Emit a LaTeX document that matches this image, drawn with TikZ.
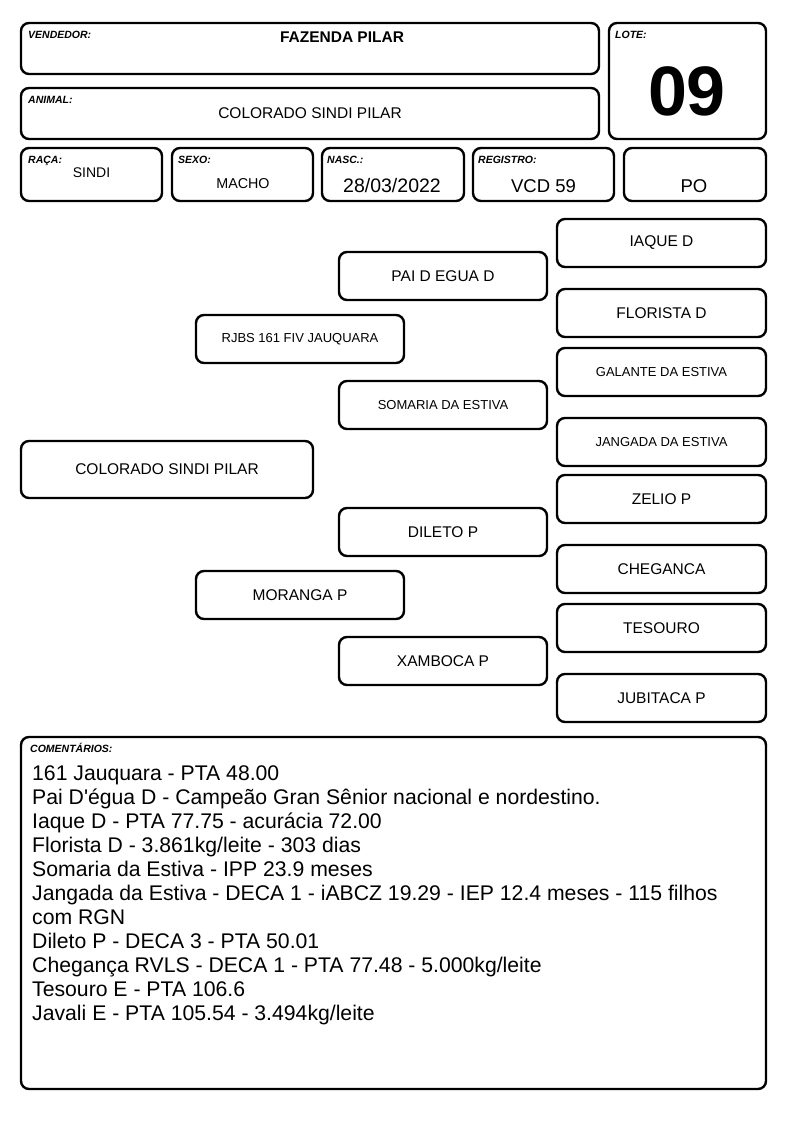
\documentclass[tikz,border=0pt]{standalone}
\usepackage{fontspec}
\setmainfont{Liberation Sans}[Ligatures=TeXOff]
\newcommand\fs[1]{\fontsize{#1}{#1}\selectfont}
\begin{document}
\begin{tikzpicture}[x=1pt,y=-1pt,
  box/.style={draw=black, line width=2.4pt, rounded corners=8pt, inner sep=0pt},
  lbl/.style={anchor=base west, inner sep=0pt, font=\fs{10.5}\bfseries\itshape},
  val/.style={inner sep=0pt, font=\fs{15.5}},
  big/.style={font=\fs{15.5}},
  sm/.style={font=\fs{13}},
  ctext/.style={anchor=base west, inner sep=0pt, font=\fs{21.2}}]
\useasboundingbox (0,0) rectangle (794,1123);
% header boxes
\node[box, minimum width=578pt, minimum height=51pt] (vend) at (310,48.5) {};
\node[box, minimum width=578pt, minimum height=51pt] (anim) at (310,113.5) {};
\node[box, minimum width=157pt, minimum height=116pt] (lote) at (687.5,81) {};
\node[box, minimum width=141pt, minimum height=53pt] (raca) at (91.5,174.5) {};
\node[box, minimum width=141pt, minimum height=53pt] (sexo) at (242.5,174.5) {};
\node[box, minimum width=142pt, minimum height=53pt] (nasc) at (393,174.5) {};
\node[box, minimum width=141pt, minimum height=53pt] (reg) at (543.5,174.5) {};
\node[box, minimum width=142pt, minimum height=53pt] (po) at (695,174.5) {};
% labels
\node[lbl] (lvend) at (28,38.5) {VENDEDOR:};
\node[lbl] (lanim) at (28,103.5) {ANIMAL:};
\node[lbl] (llote) at (615,38.5) {LOTE:};
\node[lbl] (lraca) at (28,163.5) {RAÇA:};
\node[lbl] (lsexo) at (178,163.5) {SEXO:};
\node[lbl] (lnasc) at (327,163.5) {NASC.:};
\node[lbl] (lreg) at (478,163.5) {REGISTRO:};
% values
\node[val, font=\fs{15.5}\bfseries] (tvend) at (342,37.5) {FAZENDA PILAR};
\node[val] (tanim) at (310,113.5) {COLORADO SINDI PILAR};
\node[val, font=\fs{70}\bfseries] (tlote) at (687,91.5) {09};
\node[val, font=\fs{14}] (traca) at (91.5,172.5) {SINDI};
\node[val, font=\fs{14.3}] (tsexo) at (243,184) {MACHO};
\node[val, font=\fs{19.5}] (tnasc) at (392,186) {28/03/2022};
\node[val, font=\fs{18.5}] (treg) at (543.5,186) {VCD 59};
\node[val, font=\fs{18.5}] (tpo) at (694,186.5) {PO};
% pedigree
\node[box, big, minimum width=292pt, minimum height=57pt] (animal) at (167,469.5) {COLORADO SINDI PILAR};
\node[box, sm, minimum width=208pt, minimum height=48pt] (pai) at (300,339) {RJBS 161 FIV JAUQUARA};
\node[box, big, minimum width=208pt, minimum height=48pt] (mae) at (300,595) {MORANGA P};
\node[box, big, minimum width=208pt, minimum height=48pt] (avop) at (443,276) {PAI D EGUA D};
\node[box, sm, minimum width=208pt, minimum height=48pt] (avap) at (443,405) {SOMARIA DA ESTIVA};
\node[box, big, minimum width=208pt, minimum height=48pt] (avom) at (443,532) {DILETO P};
\node[box, big, minimum width=208pt, minimum height=48pt] (avam) at (443,661) {XAMBOCA P};
\node[box, big, minimum width=209pt, minimum height=48pt] (b1) at (661.5,243) {IAQUE D};
\node[box, big, minimum width=209pt, minimum height=48pt] (b2) at (661.5,313) {FLORISTA D};
\node[box, sm, minimum width=209pt, minimum height=48pt] (b3) at (661.5,372) {GALANTE DA ESTIVA};
\node[box, sm, minimum width=209pt, minimum height=48pt] (b4) at (661.5,442) {JANGADA DA ESTIVA};
\node[box, big, minimum width=209pt, minimum height=48pt] (b5) at (661.5,499) {ZELIO P};
\node[box, big, minimum width=209pt, minimum height=48pt] (b6) at (661.5,569) {CHEGANCA};
\node[box, big, minimum width=209pt, minimum height=48pt] (b7) at (661.5,628) {TESOURO};
\node[box, big, minimum width=209pt, minimum height=48pt] (b8) at (661.5,698) {JUBITACA P};
% comments
\node[box, minimum width=745pt, minimum height=352pt] (com) at (393.5,913) {};
\node[lbl] (lcom) at (30,752) {COMENTÁRIOS:};
\foreach \t [count=\i] in {{161 Jauquara - PTA 48.00},
  {Pai D'égua D - Campeão Gran Sênior nacional e nordestino.},
  {Iaque D - PTA 77.75 - acurácia 72.00},
  {Florista D - 3.861kg/leite - 303 dias},
  {Somaria da Estiva - IPP 23.9 meses},
  {Jangada da Estiva - DECA 1 - iABCZ 19.29 - IEP 12.4 meses - 115 filhos},
  {com RGN},
  {Dileto P - DECA 3 - PTA 50.01},
  {Chegança RVLS - DECA 1 - PTA 77.48 - 5.000kg/leite},
  {Tesouro E - PTA 106.6},
  {Javali E - PTA 105.54 - 3.494kg/leite}}
  \node[ctext] (c\i) at (32,{756+24*\i}) {\t};
\end{tikzpicture}
\end{document}
